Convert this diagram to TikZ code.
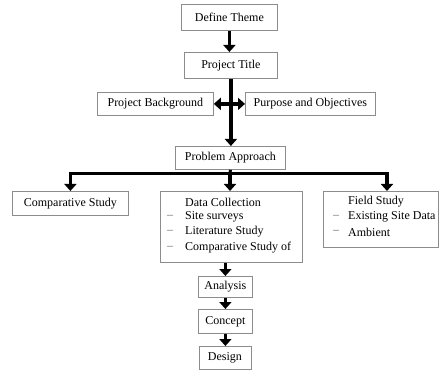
\documentclass[tikz,border=0pt]{standalone}
\usepackage{fontspec}
\setmainfont{Liberation Serif}
\usetikzlibrary{arrows.meta}
\tikzset{
  box/.style={draw=black!45, line width=0.8pt, fill=white, inner sep=0pt, anchor=north west},
  lbl/.style={inner sep=0pt, font=\fontsize{12}{14}\selectfont},
  dsh/.style={inner sep=0pt, font=\fontsize{12}{14}\selectfont, text=black!60},
  arr/.style={line width=3.5pt, -{Triangle[width=12pt,length=7pt]}},
  bar/.style={line width=3pt},
}
\begin{document}
\begin{tikzpicture}[x=1pt,y=-1pt]
\useasboundingbox (0,0) rectangle (439,374);
% boxes
\node[box, minimum width=96pt, minimum height=26pt] (theme) at (181,4) {};
\node[lbl] (themet) at (theme.center) {Define Theme};
\node[box, minimum width=93pt, minimum height=26pt] (title) at (184,52) {};
\node[lbl] (titlet) at (title.center) {Project Title};
\node[box, minimum width=116pt, minimum height=23pt] (bg) at (97,92) {};
\node[lbl] (bgt) at (bg.center) {Project Background};
\node[box, minimum width=130pt, minimum height=23pt] (purp) at (245,92) {};
\node[lbl] (purpt) at (purp.center) {Purpose and Objectives};
\node[box, minimum width=110pt, minimum height=23pt] (appr) at (175,146) {};
\node[lbl] (apprt) at (appr.center) {Problem Approach};
\node[box, minimum width=116pt, minimum height=24pt] (comp) at (12,191) {};
\node[lbl] (compt) at (comp.center) {Comparative Study};
\node[box, minimum width=142pt, minimum height=71pt] (data) at (160,191) {};
\node[lbl, anchor=west] (d0) at (185,202) {Data Collection};
\node[dsh, anchor=west] (dd1) at (167,217) {–};
\node[lbl, anchor=west] (d1) at (185,217) {Site surveys};
\node[dsh, anchor=west] (dd2) at (167,232) {–};
\node[lbl, anchor=west] (d2) at (185,232) {Literature Study};
\node[dsh, anchor=west] (dd3) at (167,248) {–};
\node[lbl, anchor=west] (d3) at (185,248) {Comparative Study of};
\node[box, minimum width=115pt, minimum height=56pt] (field) at (323,191) {};
\node[lbl, anchor=west] (f0) at (348,202) {Field Study};
\node[dsh, anchor=west] (ff1) at (333,217) {–};
\node[lbl, anchor=west] (f1) at (348,217) {Existing Site Data};
\node[dsh, anchor=west] (ff2) at (333,232) {–};
\node[lbl, anchor=west] (f2) at (348,232) {Ambient};
\node[box, minimum width=54pt, minimum height=21pt] (anal) at (198,276) {};
\node[lbl] (analt) at (anal.center) {Analysis};
\node[box, minimum width=54pt, minimum height=24pt] (conc) at (198,309) {};
\node[lbl] (conct) at (conc.center) {Concept};
\node[box, minimum width=52pt, minimum height=23pt] (des) at (198.5,346) {};
\node[lbl] (dest) at (des.center) {Design};
% connectors
\draw[arr] (theme.south) -- (theme.south |- title.north);
\draw[arr] (title.south) -- (title.south |- appr.north);
\coordinate (mid) at (title.south |- bg.east);
\draw[arr] (mid) -- (bg.east);
\draw[arr] (mid) -- (purp.west);
\coordinate (barc) at (230,174);
\coordinate (barl) at (comp.north |- barc);
\coordinate (barr) at (387,174);
\draw[bar] (appr.south) -- (barc);
\draw[bar] ([xshift=-1.5pt]barl) -- ([xshift=1.5pt]barr);
\draw[arr] (barl) -- (comp.north);
\draw[arr] (barc) -- (barc |- data.north);
\draw[arr] (barr) -- (barr |- field.north);
\draw[arr] (anal.north |- data.south) -- (anal.north);
\draw[arr] (anal.south) -- (anal.south |- conc.north);
\draw[arr] (conc.south) -- (conc.south |- des.north);
\end{tikzpicture}
\end{document}
